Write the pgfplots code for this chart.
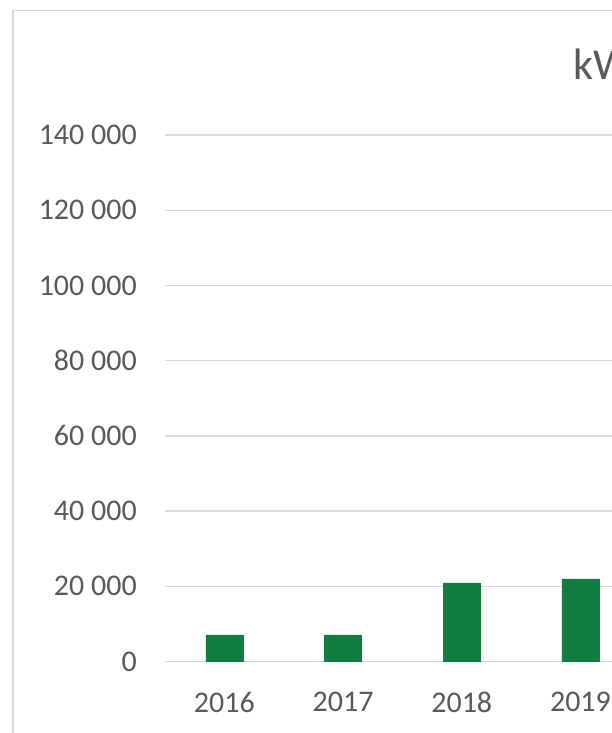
\documentclass[border=0pt]{standalone}
\usepackage{fontspec}
\setmainfont{Carlito}
\usepackage{pgfplots}
\pgfplotsset{compat=1.18}
\definecolor{txtc}{RGB}{89,89,89}
\definecolor{gridc}{RGB}{217,217,217}
\definecolor{barc}{RGB}{16,124,61}
\begin{document}
\begin{tikzpicture}[x=1pt,y=1pt]
\useasboundingbox (0,0) rectangle (612,733);
\clip (0,0) rectangle (612,733);
\fill[white] (0,0) rectangle (612,733);
\draw[gridc, line width=1.6pt] (13,-5) -- (13,722.5) -- (640,722.5);
\node[anchor=base west, text=txtc, inner sep=0pt, font=\fontsize{44}{52}\selectfont] at (573,653) {kWh};
\begin{axis}[
  at={(165pt,71.5pt)}, anchor=south west,
  scale only axis,
  width=474.8pt, height=526.5pt,
  xmin=2015.5, xmax=2019.5,
  ymin=0, ymax=140000,
  axis line style={draw=none},
  major tick length=0pt,
  tick style={draw=none},
  xmajorgrids=false,
  ymajorgrids=true,
  grid style={draw=gridc, line width=1.4pt},
  scaled y ticks=false,
  ytick={0,20000,40000,60000,80000,100000,120000,140000},
  yticklabels={0,20 000,40 000,60 000,80 000,100 000,120 000,140 000},
  xtick={2016,2017,2018,2019},
  xticklabels={2016,2017,2018,2019},
  ticklabel style={font=\fontsize{30}{36}\selectfont, text=txtc, inner sep=0pt},
  yticklabel style={anchor=east, xshift=-28pt},
  xticklabel style={anchor=north, yshift=-30.5pt},
  clip=false,
]
\addplot[ybar, bar width=37pt, fill=barc, draw=barc] coordinates {
  (2016,7100) (2017,7100) (2018,20900) (2019,22000)
};
\end{axis}
\end{tikzpicture}
\end{document}
